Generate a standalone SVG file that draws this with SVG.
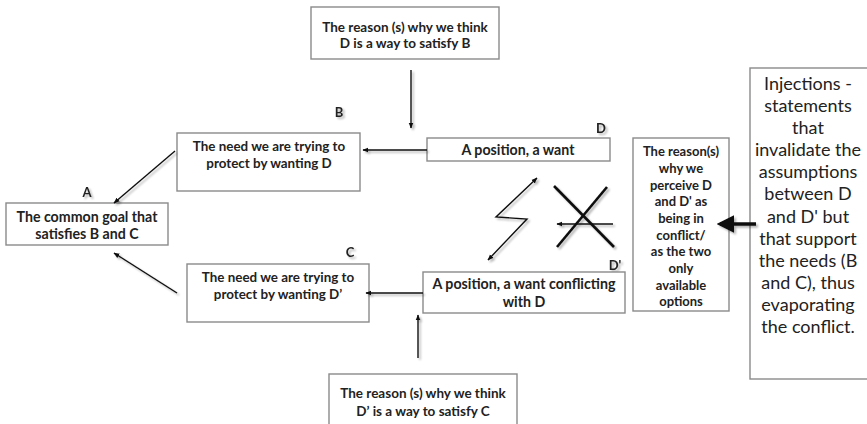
<svg xmlns="http://www.w3.org/2000/svg" width="867" height="424" viewBox="0 0 867 424">
<defs>
<marker id="ah" viewBox="0 0 10 10" refX="9" refY="5" markerWidth="6" markerHeight="6" orient="auto-start-reverse" markerUnits="userSpaceOnUse"><path d="M0,1 L10,5 L0,9 Z" fill="#111"/></marker>
<marker id="ahb" viewBox="0 0 10 10" refX="8" refY="5" markerWidth="5" markerHeight="5" orient="auto" markerUnits="strokeWidth"><path d="M0,0 L10,5 L0,10 Z" fill="#111"/></marker>
<filter id="sh" x="-20%" y="-20%" width="140%" height="140%"><feGaussianBlur in="SourceAlpha" stdDeviation="1.2"/><feOffset dx="2" dy="2" result="b"/><feComponentTransfer><feFuncA type="linear" slope="0.3"/></feComponentTransfer><feMerge><feMergeNode/><feMergeNode in="SourceGraphic"/></feMerge></filter>
</defs>
<style>
.box{fill:#fff;stroke:#8a8a8a;stroke-width:1.4}
.t{font-family:Lato,"Open Sans","Liberation Sans",sans-serif;font-weight:bold;fill:#222;text-anchor:middle}
.s{font-size:13.5px}
.m{font-size:13.4px}
.w{font-size:14.2px}
.r{font-size:13px}
.inj{font-family:Lato,"Open Sans","Liberation Sans",sans-serif;font-size:18px;fill:#222;text-anchor:middle}
.lbl{font-family:Lato,"Open Sans","Liberation Sans",sans-serif;font-weight:bold;font-size:13px;fill:#222;text-anchor:middle}
.c{fill:none;stroke:#111;stroke-width:1.4}
.x{fill:none;stroke:#111;stroke-width:2.6}
</style>
<rect width="867" height="424" fill="#fff"/>
<g id="labels" filter="url(#sh)">
<text class="lbl" x="339" y="117">B</text>
<text class="lbl" x="601" y="133">D</text>
<text class="lbl" x="87" y="197">A</text>
<text class="lbl" x="350" y="257">C</text>
<text class="lbl" x="615" y="270">D'</text>
</g>
<g id="node-top">
<rect class="box" x="311" y="7" width="188" height="52"/>
<text class="t s" x="405" y="32">The reason (s) why we think</text>
<text class="t s" x="405" y="48">D is a way to satisfy B</text>
</g>
<g id="node-B">
<rect class="box" x="177" y="133" width="183" height="58"/>
<text class="t m" x="269" y="151">The need we are trying to</text>
<text class="t m" x="269" y="168">protect by wanting D</text>
</g>
<g id="node-D">
<rect class="box" x="427" y="138" width="183" height="23"/>
<text class="t w" x="518" y="155">A position, a want</text>
</g>
<g id="node-A">
<rect class="box" x="6" y="203" width="162" height="42"/>
<text class="t w" x="87" y="222">The common goal that</text>
<text class="t w" x="87" y="239">satisfies B and C</text>
</g>
<g id="node-C">
<rect class="box" x="187" y="264" width="182" height="58"/>
<text class="t m" x="278" y="282">The need we are trying to</text>
<text class="t m" x="278" y="299">protect by wanting D’</text>
</g>
<g id="node-Dp">
<rect class="box" x="423" y="272" width="202" height="41"/>
<text class="t w" x="524" y="289">A position, a want conflicting</text>
<text class="t w" x="524" y="307">with D</text>
</g>
<g id="node-bottom">
<rect class="box" x="329" y="374" width="188" height="60"/>
<text class="t s" x="423" y="398">The reason (s) why we think</text>
<text class="t s" x="423" y="416">D’ is a way to satisfy C</text>
</g>
<g id="node-reason">
<rect class="box" x="633" y="138" width="96" height="173"/>
<text class="t r" x="681" y="156">The reason(s)</text>
<text class="t r" x="681" y="173">why we</text>
<text class="t r" x="681" y="190">perceive D</text>
<text class="t r" x="681" y="206">and D' as</text>
<text class="t r" x="681" y="223">being in</text>
<text class="t r" x="681" y="240">conflict/</text>
<text class="t r" x="681" y="256">as the two</text>
<text class="t r" x="681" y="273">only</text>
<text class="t r" x="681" y="290">available</text>
<text class="t r" x="681" y="306">options</text>
</g>
<g id="node-injections">
<rect class="box" x="750" y="68" width="120" height="311"/>
<text class="inj" x="808" y="90">Injections -</text>
<text class="inj" x="808" y="112">statements</text>
<text class="inj" x="808" y="134">that</text>
<text class="inj" x="808" y="156">invalidate the</text>
<text class="inj" x="808" y="178">assumptions</text>
<text class="inj" x="808" y="200">between D</text>
<text class="inj" x="808" y="223">and D' but</text>
<text class="inj" x="808" y="245">that support</text>
<text class="inj" x="808" y="267">the needs (B</text>
<text class="inj" x="808" y="289">and C), thus</text>
<text class="inj" x="808" y="311">evaporating</text>
<text class="inj" x="808" y="333">the conflict.</text>
</g>
<g id="connectors" filter="url(#sh)">
<line class="c" x1="411" y1="70" x2="411" y2="128" marker-end="url(#ah)"/>
<line class="c" x1="427" y1="150" x2="363" y2="150" marker-end="url(#ah)"/>
<line class="c" x1="175" y1="151" x2="114" y2="203" marker-end="url(#ah)"/>
<line class="c" x1="177" y1="293" x2="114" y2="253" marker-end="url(#ah)"/>
<line class="c" x1="423" y1="293" x2="366" y2="293" marker-end="url(#ah)"/>
<line class="c" x1="418" y1="358" x2="418" y2="315" marker-end="url(#ah)"/>
<polyline class="c" points="537,178 496,217 527,219 488,260" marker-start="url(#ah)" marker-end="url(#ah)"/>
<line class="c" x1="613" y1="224" x2="557" y2="224" marker-end="url(#ah)"/>
<line class="x" x1="554" y1="186" x2="614" y2="247"/>
<line class="x" x1="607" y1="187" x2="557" y2="247"/>
<line x1="756" y1="224" x2="720" y2="224" stroke="#111" stroke-width="3.5" marker-end="url(#ahb)"/>
</g>
</svg>
